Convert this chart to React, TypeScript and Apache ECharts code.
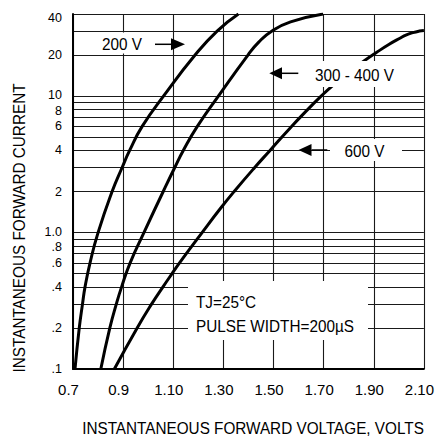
import React, { useEffect, useRef } from 'react';
import * as echarts from 'echarts';

// ---- axis values ----
const xTickValues = [0.7, 0.9, 1.1, 1.3, 1.5, 1.7, 1.9, 2.1];
const yGridValues = [
  0.1, 0.2, 0.3, 0.4, 0.5, 0.6, 0.7, 0.8, 0.9,
  1, 2, 3, 4, 5, 6, 7, 8, 9,
  10, 20, 30, 40,
];
const yLabelValues = [0.1, 0.2, 0.4, 0.6, 0.8, 1, 2, 4, 6, 8, 10, 20, 40];

// ---- series values (forward voltage V, forward current A) ----
const v200 = [0.708, 0.725, 0.738, 0.748, 0.768, 0.8, 0.856, 0.896, 0.926, 0.976, 1.061, 1.187, 1.275, 1.36];
const i200 = [0.1, 0.2, 0.3, 0.4, 0.6, 1.0, 2, 3, 4, 6, 10, 20, 30, 40];

const v300 = [0.811, 0.847, 0.873, 0.894, 0.928, 0.983, 1.06, 1.106, 1.14, 1.196, 1.28, 1.398, 1.442, 1.494, 1.568, 1.698];
const i300 = [0.1, 0.2, 0.3, 0.4, 0.6, 1.0, 2, 3, 4, 6, 10, 20, 25, 30, 35, 40];

const v600 = [0.865, 0.956, 1.014, 1.059, 1.095, 1.125, 1.215, 1.288, 1.343, 1.425, 1.486, 1.572, 1.637, 1.69, 1.737, 1.801, 1.861, 1.909, 1.96, 2.008, 2.028, 2.056, 2.082, 2.1];
const i600 = [0.1, 0.2, 0.3, 0.4, 0.5, 0.6, 1.0, 1.5, 2, 3, 4, 6, 8, 10, 12, 15, 18.1, 20.8, 23.9, 26.8, 28, 29.2, 30, 30.3];

const seriesNames = ['200 V', '300 - 400 V', '600 V'];

// ---- texts ----
const xTitle = 'INSTANTANEOUS FORWARD VOLTAGE, VOLTS';
const yTitle = 'INSTANTANEOUS FORWARD CURRENT';
const noteLine1 = 'TJ=25°C';
const noteLine2 = 'PULSE WIDTH=200µS';

const FONT = "'Liberation Sans', Arial, sans-serif";

function pairs(xs: number[], ys: number[]) {
  return xs.map((x, i) => [x, ys[i]]);
}

function txt(text: string, x: number, y: number, align: string, extra: any = {}) {
  return {
    type: 'text',
    x,
    y,
    z: 101,
    scaleX: 0.9,
    ...extra,
    style: {
      text,
      fontSize: 17,
      fontFamily: FONT,
      fill: '#000',
      textAlign: align,
      textVerticalAlign: 'middle',
      align,
      verticalAlign: 'middle',
    },
  };
}

function whiteBox(x: number, y: number, w: number, h: number) {
  return { type: 'rect', z: 100, shape: { x, y, width: w, height: h }, style: { fill: '#fff' } };
}

function arrow(tipX: number, baseX: number, tailX: number, y: number) {
  return [
    {
      type: 'polyline',
      z: 101,
      shape: { points: [[baseX, y], [tailX, y]] },
      style: { stroke: '#000', lineWidth: 1.5, fill: null },
    },
    {
      type: 'polygon',
      z: 101,
      shape: { points: [[baseX, y - 6], [tipX, y], [baseX, y + 6]] },
      style: { fill: '#000' },
    },
  ];
}

const LABEL_FS = 12.5;
const richBase = { fontSize: LABEL_FS, lineHeight: 12, fontFamily: FONT, color: '#000' };

export default function App() {
  const ref = useRef<HTMLDivElement>(null);

  useEffect(() => {
    if (!ref.current) return;
    const chart = echarts.init(ref.current, undefined, { renderer: 'svg' });
    const gridLine = { show: true, lineStyle: { color: '#1a1a1a', width: 1.1 } };
    const option: any = {
      animation: false,
      backgroundColor: '#fff',
      grid: { left: 73, right: 13, top: 14, bottom: 69, containLabel: false },
      xAxis: {
        type: 'value',
        min: 0.7,
        max: 2.1,
        axisLine: { show: true, lineStyle: { color: '#000', width: 2 } },
        axisTick: { show: false, customValues: xTickValues },
        splitLine: gridLine,
        axisLabel: {
          customValues: xTickValues,
          margin: 13,
          padding: [0, 9, 0, 0],
          fontSize: 15,
          fontFamily: FONT,
          color: '#000',
          formatter: (v: number) => (v < 1 ? v.toFixed(1) : v.toFixed(2)),
        },
      },
      yAxis: {
        type: 'log',
        logBase: 10,
        min: 0.1,
        max: 40,
        axisLine: { show: true, lineStyle: { color: '#000', width: 2 } },
        axisTick: { show: false, customValues: yGridValues },
        splitLine: gridLine,
        minorSplitLine: { show: false },
        axisLabel: {
          customValues: yLabelValues,
          margin: 11,
          fontSize: LABEL_FS,
          lineHeight: 12,
          fontFamily: FONT,
          color: '#000',
          formatter: (v: number) => {
            if (Math.abs(v - 40) < 0.01) return '{top|40}';
            if (Math.abs(v - 10) < 0.01) return '{up|10}';
            if (Math.abs(v - 8) < 0.01) return '{dn|8}';
            if (Math.abs(v - 1) < 0.01) return '{up|1.0}';
            if (Math.abs(v - 0.8) < 0.001) return '{dn|.8}';
            if (v < 0.99) return '.' + Math.round(v * 10);
            return String(Math.round(v));
          },
          rich: {
            top: { ...richBase, padding: [8, 0, 0, 0] },
            up: { ...richBase, padding: [0, 0, 2, 0] },
            dn: { ...richBase, padding: [3, 0, 0, 0] },
          },
        },
      },
      series: [
        { name: seriesNames[0], data: pairs(v200, i200) },
        { name: seriesNames[1], data: pairs(v300, i300) },
        { name: seriesNames[2], data: pairs(v600, i600) },
      ].map((s) => ({
        ...s,
        type: 'line',
        smooth: 0.5,
        showSymbol: false,
        symbol: 'none',
        clip: true,
        lineStyle: { color: '#000', width: 3 },
        z: 5,
      })),
      graphic: [
        whiteBox(88, 32.5, 80, 21),
        whiteBox(305, 61, 95, 26),
        whiteBox(330, 139, 72, 22),
        whiteBox(188, 281, 180, 59),
        txt(seriesNames[0], 102, 43.8, 'left'),
        ...arrow(185, 171, 155, 44.3),
        txt(seriesNames[1], 315, 74.3, 'left'),
        ...arrow(269.3, 282, 298.3, 73.3),
        txt(seriesNames[2], 344.5, 151, 'left'),
        ...arrow(298.5, 311.5, 327.3, 150),
        txt(noteLine1, 196, 301.2, 'left'),
        txt(noteLine2, 196, 325.6, 'left'),
        txt(xTitle, 253, 428, 'center'),
        txt(yTitle, 19, 228, 'center', { rotation: Math.PI / 2 }),
      ],
    };
    chart.setOption(option);
    return () => chart.dispose();
  }, []);

  return (
    <div
      ref={ref}
      style={{ position: 'fixed', left: 0, top: 0, width: 437, height: 438, background: '#fff' }}
    />
  );
}
